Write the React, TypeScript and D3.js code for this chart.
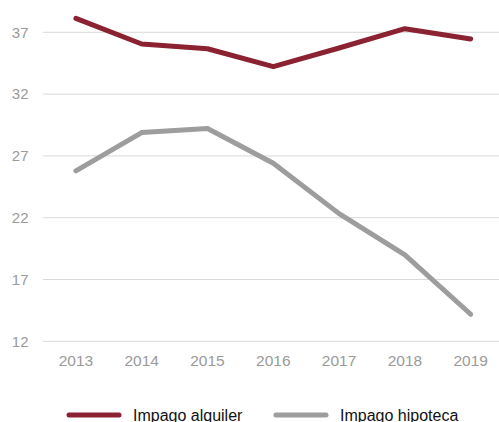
import React from "react";
import * as d3 from "d3";

const years = ["2013", "2014", "2015", "2016", "2017", "2018", "2019"];
const alquiler = [38.13, 36.05, 35.67, 34.22, 35.73, 37.29, 36.46];
const hipoteca = [25.79, 28.89, 29.21, 26.41, 22.33, 19.0, 14.19];
const yTicks = [12, 17, 22, 27, 32, 37];
const seriesNames = ["Impago alquiler", "Impago hipoteca"];
const colors = ["#8B2232", "#9D9D9D"];

export default function App() {
  const W = 499, H = 422;
  const x = d3.scaleBand<string>().domain(years).range([43, 503.6]);
  const y = d3.scaleLinear().domain([12, 37]).range([341.3, 32.3]);
  const line = d3
    .line<number>()
    .x((_, i) => (x(years[i]) as number) + x.bandwidth() / 2)
    .y((d) => y(d));
  const font = "'Liberation Sans', Arial, sans-serif";
  return (
    <svg width={W} height={H} style={{ position: "absolute", left: 0, top: 0 }}>
      <rect width={W} height={H} fill="#fff" />
      {yTicks.map((t) => (
        <g key={t}>
          <line x1={43} x2={W} y1={y(t)} y2={y(t)} stroke="#d9d9d9" strokeWidth={1} />
          <text x={28.5} y={y(t)} dy="0.35em" textAnchor="end" fontFamily={font} fontSize={15} fill="#9a9a9a">
            {t}
          </text>
        </g>
      ))}
      {years.map((yr) => (
        <text key={yr} x={(x(yr) as number) + x.bandwidth() / 2} y={361} dy="0.35em" textAnchor="middle" fontFamily={font} fontSize={15.5} fill="#9a9a9a">
          {yr}
        </text>
      ))}
      {[alquiler, hipoteca].map((s, i) => (
        <path key={i} d={line(s) || ""} fill="none" stroke={colors[i]} strokeWidth={5} strokeLinecap="round" strokeLinejoin="round" />
      ))}
      {seriesNames.map((n, i) => {
        const lx = i === 0 ? 67 : 274;
        return (
          <g key={n}>
            <line x1={lx + 2} x2={lx + 52} y1={415} y2={415} stroke={colors[i]} strokeWidth={5} strokeLinecap="round" />
            <text x={lx + 66} y={415.5} dy="0.35em" fontFamily={font} fontSize={16} fill="#111">
              {n}
            </text>
          </g>
        );
      })}
    </svg>
  );
}
